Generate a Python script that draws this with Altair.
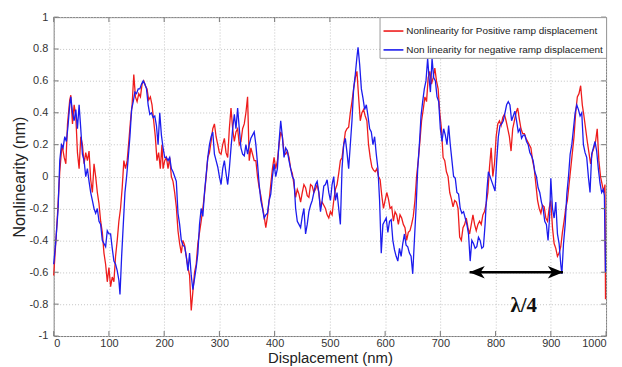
import altair as alt
import pandas as pd

RED_NAME = "Nonlinearity for Positive ramp displacement"
BLUE_NAME = "Non linearity for negative ramp displacement"

red_x = [0, 4, 7, 11, 15, 19, 22, 25, 29, 31, 34, 37, 40, 43, 46, 49, 52, 55, 58, 61, 64, 67, 70, 73, 76, 79, 82, 85, 88, 91, 94, 97, 100, 103, 106, 109, 112, 115, 118, 121, 124, 127, 130, 133, 136, 139, 142, 145, 148, 151, 154, 157, 160, 163, 166, 169, 172, 175, 178, 181, 184, 187, 190, 193, 196, 198, 201, 204, 207, 210, 213, 216, 219, 222, 225, 228, 231, 234, 237, 240, 243, 246, 249, 252, 255, 258, 261, 264, 267, 270, 273, 276, 279, 282, 285, 288, 291, 294, 297, 300, 303, 306, 309, 312, 315, 318, 321, 324, 327, 330, 333, 336, 339, 342, 345, 348, 351, 354, 357, 360, 363, 366, 369, 372, 375, 378, 381, 384, 387, 390, 393, 396, 399, 402, 405, 408, 411, 414, 417, 420, 423, 426, 429, 432, 435, 438, 441, 444, 447, 450, 453, 456, 459, 462, 465, 468, 471, 474, 477, 480, 483, 486, 489, 492, 495, 498, 501, 504, 507, 510, 513, 516, 519, 522, 525, 528, 531, 534, 537, 540, 543, 546, 549, 552, 555, 558, 561, 564, 567, 570, 573, 576, 579, 582, 585, 588, 591, 594, 597, 600, 603, 606, 609, 612, 615, 618, 621, 624, 627, 630, 633, 636, 639, 642, 645, 648, 651, 654, 657, 660, 663, 666, 669, 672, 675, 678, 681, 684, 687, 690, 693, 696, 699, 702, 705, 708, 711, 714, 717, 720, 723, 726, 729, 732, 735, 738, 741, 744, 747, 750, 753, 756, 759, 762, 765, 768, 771, 774, 777, 780, 783, 786, 789, 792, 795, 798, 801, 804, 807, 810, 813, 816, 819, 822, 825, 828, 831, 834, 837, 840, 843, 846, 849, 852, 855, 858, 861, 864, 867, 870, 873, 876, 879, 882, 885, 888, 891, 894, 897, 900, 903, 906, 909, 912, 915, 918, 921, 924, 927, 930, 933, 936, 939, 942, 945, 948, 951, 954, 957, 960, 963, 966, 969, 972, 975, 978, 981, 984, 987, 990, 993, 996, 998, 999]
red_y = [-0.62, -0.4, -0.23, 0.03, 0.2, 0.12, 0.08, 0.33, 0.48, 0.51, 0.33, 0.45, 0.38, 0.15, 0.05, 0.25, 0.2, 0.08, 0.15, 0.1, 0.16, -0.02, -0.1, 0.08, 0.0, -0.1, -0.17, -0.28, -0.35, -0.48, -0.55, -0.66, -0.57, -0.69, -0.63, -0.66, -0.5, -0.4, -0.28, -0.2, -0.07, 0.1, 0.05, 0.1, 0.22, 0.35, 0.45, 0.64, 0.5, 0.47, 0.52, 0.5, 0.58, 0.6, 0.57, 0.55, 0.48, 0.5, 0.45, 0.35, 0.25, 0.1, 0.15, 0.05, 0.2, 0.05, 0.1, 0.12, 0.05, 0.12, 0.0, -0.03, -0.1, -0.19, -0.34, -0.42, -0.48, -0.4, -0.43, -0.5, -0.57, -0.62, -0.84, -0.72, -0.6, -0.55, -0.42, -0.35, -0.28, -0.2, -0.11, 0.0, 0.12, 0.15, 0.22, 0.3, 0.33, 0.25, 0.2, 0.15, 0.14, 0.2, 0.24, 0.15, 0.12, 0.3, 0.43, 0.3, 0.22, 0.28, 0.3, 0.2, 0.22, 0.3, 0.33, 0.4, 0.5, 0.1, 0.18, 0.14, 0.1, 0.1, 0.0, -0.07, -0.12, -0.19, -0.25, -0.32, -0.25, -0.15, -0.05, 0.05, 0.12, 0.05, 0.1, 0.2, 0.28, 0.25, 0.15, 0.14, 0.16, 0.12, 0.05, 0.02, -0.05, -0.13, -0.08, -0.11, -0.16, -0.1, -0.05, -0.07, -0.12, -0.13, -0.05, -0.06, -0.1, -0.08, -0.05, -0.1, -0.19, -0.16, -0.18, -0.2, -0.24, -0.26, -0.22, -0.24, -0.15, -0.08, -0.05, 0.02, 0.1, 0.12, 0.2, 0.28, 0.3, 0.31, 0.4, 0.47, 0.55, 0.62, 0.66, 0.5, 0.35, 0.4, 0.42, 0.38, 0.35, 0.2, 0.12, 0.06, 0.04, 0.03, 0.05, 0.0, -0.02, -0.12, -0.2, -0.15, -0.1, -0.14, -0.2, -0.19, -0.28, -0.22, -0.24, -0.3, -0.24, -0.26, -0.3, -0.32, -0.4, -0.35, -0.34, -0.3, -0.25, -0.15, 0.0, 0.1, 0.22, 0.35, 0.42, 0.5, 0.47, 0.62, 0.66, 0.58, 0.62, 0.68, 0.6, 0.55, 0.4, 0.3, 0.12, 0.1, 0.03, 0.0, -0.1, -0.14, -0.19, -0.15, -0.16, -0.2, -0.38, -0.4, -0.32, -0.3, -0.26, -0.32, -0.36, -0.3, -0.24, -0.3, -0.34, -0.3, -0.28, -0.3, -0.24, -0.22, -0.17, -0.1, 0.06, 0.18, 0.0, 0.08, 0.25, 0.33, 0.35, 0.32, 0.37, 0.39, 0.35, 0.3, 0.25, 0.16, 0.3, 0.35, 0.4, 0.43, 0.36, 0.3, 0.27, 0.27, 0.24, 0.22, 0.2, 0.18, 0.1, 0.05, -0.05, -0.15, -0.2, -0.23, -0.18, -0.19, -0.26, -0.28, -0.2, -0.15, -0.32, -0.42, -0.45, -0.5, -0.48, -0.44, -0.35, -0.28, -0.2, -0.15, -0.05, 0.05, 0.15, 0.25, 0.4, 0.5, 0.52, 0.57, 0.45, 0.38, 0.3, 0.22, 0.15, 0.08, 0.15, 0.18, 0.22, 0.3, 0.1, 0.0, -0.05, -0.1, -0.05, -0.77]

blue_x = [0, 4, 8, 11, 14, 17, 20, 23, 26, 29, 31, 34, 37, 40, 43, 46, 49, 52, 55, 58, 61, 64, 67, 70, 73, 76, 79, 82, 85, 88, 91, 94, 97, 100, 103, 106, 109, 112, 115, 118, 120, 123, 126, 129, 132, 135, 138, 141, 144, 147, 150, 153, 156, 159, 162, 165, 168, 171, 174, 177, 180, 183, 186, 189, 192, 195, 198, 201, 204, 207, 210, 213, 216, 219, 222, 225, 228, 231, 234, 237, 240, 243, 246, 249, 252, 255, 258, 261, 264, 267, 270, 273, 276, 279, 282, 285, 288, 291, 294, 297, 300, 303, 306, 309, 312, 315, 318, 321, 324, 327, 330, 333, 336, 339, 342, 345, 348, 351, 354, 357, 360, 363, 366, 369, 372, 375, 378, 381, 384, 387, 390, 393, 396, 399, 402, 405, 408, 411, 414, 417, 420, 423, 426, 429, 432, 435, 438, 441, 444, 447, 450, 453, 456, 459, 462, 465, 468, 471, 474, 477, 480, 483, 486, 489, 492, 495, 498, 501, 504, 507, 510, 513, 516, 519, 522, 525, 528, 531, 534, 537, 540, 543, 546, 549, 551, 554, 557, 560, 563, 566, 569, 572, 575, 578, 581, 584, 587, 590, 593, 596, 599, 602, 605, 608, 611, 614, 617, 620, 623, 626, 629, 632, 635, 638, 641, 644, 647, 650, 653, 656, 659, 662, 665, 668, 671, 674, 677, 680, 682, 685, 688, 691, 694, 697, 700, 703, 706, 709, 712, 715, 718, 721, 724, 727, 730, 733, 736, 739, 742, 745, 748, 751, 754, 757, 760, 763, 766, 769, 772, 775, 778, 781, 784, 787, 790, 793, 796, 799, 802, 805, 808, 811, 814, 817, 820, 823, 826, 829, 832, 835, 838, 841, 844, 847, 850, 853, 856, 859, 862, 865, 868, 871, 874, 877, 880, 883, 886, 889, 892, 895, 898, 900, 903, 906, 909, 912, 915, 918, 920, 923, 926, 929, 932, 935, 938, 941, 944, 947, 950, 953, 956, 959, 962, 965, 968, 971, 974, 977, 980, 983, 986, 989, 992, 995, 997, 999]
blue_y = [-0.55, -0.4, -0.2, 0.1, 0.2, 0.18, 0.25, 0.22, 0.32, 0.45, 0.5, 0.4, 0.35, 0.42, 0.3, 0.45, 0.3, 0.14, 0.1, 0.0, 0.05, -0.03, -0.1, -0.15, -0.2, -0.23, -0.2, -0.28, -0.3, -0.4, -0.42, -0.44, -0.34, -0.36, -0.36, -0.45, -0.53, -0.55, -0.59, -0.65, -0.74, -0.5, -0.3, -0.1, 0.0, 0.12, 0.25, 0.42, 0.47, 0.53, 0.52, 0.55, 0.55, 0.58, 0.6, 0.58, 0.55, 0.45, 0.39, 0.4, 0.37, 0.38, 0.32, 0.2, 0.4, 0.26, 0.18, 0.12, 0.12, 0.1, 0.12, 0.05, 0.03, 0.0, -0.03, -0.23, -0.3, -0.4, -0.43, -0.44, -0.5, -0.59, -0.48, -0.62, -0.71, -0.64, -0.57, -0.48, -0.3, -0.2, -0.25, -0.1, 0.01, 0.12, 0.2, 0.25, 0.28, 0.14, 0.1, 0.06, 0.0, -0.05, 0.05, 0.1, 0.02, -0.05, 0.05, 0.18, 0.3, 0.39, 0.3, 0.43, 0.3, 0.18, 0.14, 0.13, 0.2, 0.14, 0.2, 0.24, 0.26, 0.28, 0.2, 0.08, -0.05, -0.15, -0.2, -0.26, -0.24, -0.23, -0.15, -0.11, 0.0, 0.08, 0.0, 0.05, 0.22, 0.35, 0.25, 0.12, 0.18, 0.16, 0.1, 0.05, 0.0, -0.02, -0.2, -0.28, -0.3, -0.32, -0.25, -0.2, -0.36, -0.3, -0.22, -0.18, -0.15, -0.1, -0.05, -0.03, -0.1, -0.22, -0.15, -0.06, -0.05, -0.02, -0.1, -0.15, -0.05, 0.0, -0.15, -0.1, -0.2, -0.3, 0.05, 0.2, 0.24, 0.15, 0.05, 0.2, 0.35, 0.55, 0.64, 0.75, 0.81, 0.7, 0.55, 0.49, 0.42, 0.45, 0.38, 0.3, 0.28, 0.2, 0.25, 0.14, 0.05, -0.15, -0.48, -0.3, -0.28, -0.26, -0.35, -0.28, -0.27, -0.4, -0.46, -0.5, -0.53, -0.45, -0.5, -0.42, -0.36, -0.43, -0.44, -0.48, -0.5, -0.61, -0.4, -0.2, 0.05, 0.2, 0.38, 0.47, 0.55, 0.6, 0.74, 0.6, 0.53, 0.74, 0.62, 0.6, 0.5, 0.47, 0.3, 0.22, 0.3, 0.26, 0.2, 0.32, 0.2, 0.1, 0.0, -0.01, -0.1, -0.11, -0.2, -0.23, -0.22, -0.26, -0.3, -0.36, -0.53, -0.4, -0.42, -0.45, -0.44, -0.38, -0.4, -0.45, -0.44, -0.3, -0.1, 0.03, 0.0, -0.03, -0.06, -0.09, 0.1, 0.25, 0.32, 0.33, 0.35, 0.4, 0.45, 0.47, 0.45, 0.35, 0.38, 0.41, 0.35, 0.28, 0.3, 0.24, 0.26, 0.26, 0.22, 0.2, 0.15, 0.13, 0.1, 0.03, 0.0, -0.07, -0.1, -0.16, -0.2, -0.28, -0.3, -0.4, -0.24, -0.01, -0.2, -0.26, -0.16, -0.36, -0.42, -0.55, -0.61, -0.42, -0.3, -0.11, 0.0, 0.14, 0.2, 0.3, 0.4, 0.45, 0.42, 0.38, 0.4, 0.2, 0.15, 0.12, 0.0, -0.1, 0.14, 0.18, 0.22, 0.16, 0.05, -0.04, -0.1, -0.08, -0.12, -0.6]

x_ticks = [0, 100, 200, 300, 400, 500, 600, 700, 800, 900, 1000]
y_ticks = [-1, -0.8, -0.6, -0.4, -0.2, 0, 0.2, 0.4, 0.6, 0.8, 1]

arrow_x = [753, 922]
arrow_y = -0.6
label_text = "λ/4"
label_x = 851
label_y = -0.81

RED = "#ee1c1c"
BLUE = "#1c1cee"
SANS = "Arial, 'Liberation Sans', sans-serif"
SERIF = "'Liberation Serif', 'DejaVu Serif', serif"

lines = pd.concat([
    pd.DataFrame({"x": red_x, "y": red_y, "series": RED_NAME}),
    pd.DataFrame({"x": blue_x, "y": blue_y, "series": BLUE_NAME}),
], ignore_index=True)
lines["order"] = range(len(lines))

xscale = alt.Scale(domain=[0, 1000], nice=False, zero=False)
yscale = alt.Scale(domain=[-1, 1], nice=False, zero=False)

xaxis = alt.Axis(values=x_ticks, grid=True, ticks=False, domain=False,
                 labelPadding=2, labelOverlap=False, format="d",
                 title="Displacement (nm)", titleY=15, titleBaseline="top",
                 titleFontSize=15)
yaxis = alt.Axis(values=y_ticks, grid=True, ticks=False, domain=False,
                 labelPadding=6, labelOverlap=False,
                 labelExpr="replace(format(datum.value, '~g'), '\u2212', '-')",
                 title="Nonlinearity (nm)", titleX=-34, titleY=160.5,
                 titleAngle=270, titleBaseline="middle", titleAlign="center")


def X(field):
    return alt.X(field, scale=xscale, axis=xaxis)


def Y(field):
    return alt.Y(field, scale=yscale, axis=yaxis)


line_layer = alt.Chart(lines).mark_line(strokeWidth=1.3).encode(
    x=X("x:Q"),
    y=Y("y:Q"),
    color=alt.Color("series:N",
                    scale=alt.Scale(domain=[RED_NAME, BLUE_NAME], range=[RED, BLUE]),
                    legend=alt.Legend(title=None, orient="top-right", offset=0,
                                      symbolType="stroke", symbolSize=400,
                                      symbolStrokeWidth=1.6, labelFontSize=10,
                                      labelLimit=400, labelOffset=2,
                                      padding=3, rowPadding=3,
                                      strokeColor="#9a9a9a", fillColor="white")),
    detail="series:N",
    order="order:Q",
)

# inward tick marks (MATLAB box style)
tick_len_x = 9.0
tick_len_y = 0.031
tx = pd.DataFrame({"v": x_ticks})
ty = pd.DataFrame({"v": y_ticks})
tick_color = "#777777"
xt_bottom = alt.Chart(tx).transform_calculate(a="-1", b=f"-1+{tick_len_y}").mark_rule(color=tick_color, strokeWidth=1).encode(
    x=X("v:Q"), y=Y("a:Q"), y2="b:Q")
xt_top = alt.Chart(tx).transform_calculate(a="1", b=f"1-{tick_len_y}").mark_rule(color=tick_color, strokeWidth=1).encode(
    x=X("v:Q"), y=Y("a:Q"), y2="b:Q")
yt_left = alt.Chart(ty).transform_calculate(a="0", b=f"{tick_len_x}").mark_rule(color=tick_color, strokeWidth=1).encode(
    y=Y("v:Q"), x=X("a:Q"), x2="b:Q")
yt_right = alt.Chart(ty).transform_calculate(a="1000", b=f"1000-{tick_len_x}").mark_rule(color=tick_color, strokeWidth=1).encode(
    y=Y("v:Q"), x=X("a:Q"), x2="b:Q")

adf = pd.DataFrame({"x1": [arrow_x[0]], "x2": [arrow_x[1]], "y": [arrow_y]})
arrow_line = alt.Chart(adf).mark_rule(color="black", strokeWidth=2.6).encode(
    x=X("x1:Q"), x2="x2:Q", y=Y("y:Q"))
head_shape = "M1,0L-1,-0.8L-0.45,0L-1,0.8Z"
hr = pd.DataFrame({"x": [arrow_x[1]], "y": [arrow_y]})
hl = pd.DataFrame({"x": [arrow_x[0]], "y": [arrow_y]})
head_r = alt.Chart(hr).mark_point(shape=head_shape, size=240, filled=True, color="black", opacity=1, xOffset=-7.5).encode(
    x=X("x:Q"), y=Y("y:Q"))
head_l = alt.Chart(hl).mark_point(shape=head_shape, size=240, filled=True, color="black", opacity=1, angle=180, xOffset=7.5).encode(
    x=X("x:Q"), y=Y("y:Q"))
ldf = pd.DataFrame({"x": [label_x], "y": [label_y], "t": [label_text]})
label = alt.Chart(ldf).mark_text(font=SERIF, fontSize=21, fontWeight="bold", color="#111").encode(
    x=X("x:Q"), y=Y("y:Q"), text="t:N")

chart = alt.layer(line_layer, xt_bottom, xt_top, yt_left, yt_right,
                  arrow_line, head_r, head_l, label).properties(
    width=556, height=321,
    padding={"left": 46, "top": 8, "right": 8, "bottom": 30},
    autosize=alt.AutoSizeParams(type="none"),
).configure_view(stroke="#7a7a7a", strokeWidth=1).configure_axis(
    labelFont=SANS, labelFontSize=11, labelColor="#333",
    titleFont=SANS, titleFontSize=16, titleFontWeight="normal", titleColor="#222",
    gridColor="#c4c4c4", gridDash=[1, 2], gridWidth=1,
).configure_legend(labelFont=SANS, labelColor="#222")

chart.save("out.html", embed_options={"renderer": "svg", "actions": False})
